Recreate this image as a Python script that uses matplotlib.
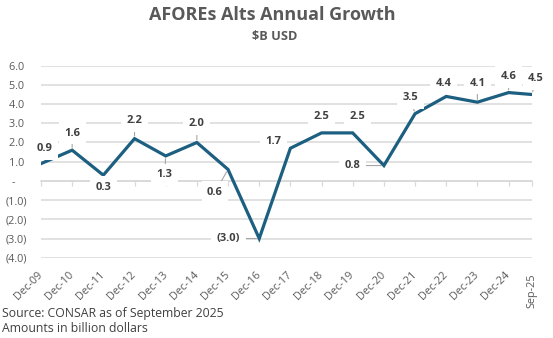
import matplotlib
matplotlib.use("Agg")
import matplotlib.pyplot as plt
import matplotlib.dates as mdates
import pandas as pd
from matplotlib.ticker import FuncFormatter, FixedLocator

# data
dates = ["2009-12-01", "2010-12-01", "2011-12-01", "2012-12-01", "2013-12-01",
         "2014-12-01", "2015-12-01", "2016-12-01", "2017-12-01", "2018-12-01",
         "2019-12-01", "2020-12-01", "2021-12-01", "2022-12-01", "2023-12-01",
         "2024-12-01", "2025-09-01"]
tick_labels = ["Dec-09", "Dec-10", "Dec-11", "Dec-12", "Dec-13", "Dec-14", "Dec-15",
               "Dec-16", "Dec-17", "Dec-18", "Dec-19", "Dec-20", "Dec-21", "Dec-22",
               "Dec-23", "Dec-24", "Sep-25"]
growth = [0.9, 1.6, 0.3, 2.2, 1.3, 2.0, 0.6, -3.0, 1.7, 2.5, 2.5, 0.8, 3.5, 4.4, 4.1, 4.6, 4.5]

# label offsets in pixels (dx, dy) and whether excel drew a leader line
label_offsets = [(4, 15), (0, 17), (0, -12), (0, 18), (-1, -19), (0, 19), (-13, -23),
                 (-31, 0), (-17, 7), (0, 16), (5, 16), (-31, 0), (-5, 16), (-3, 13),
                 (0, 19), (0, 16), (4, 16)]
leaders = [False, True, False, True, True, True, True, True, False, False, False,
           True, True, False, True, True, True]

x = pd.to_datetime(dates)

LINE = "#1c5f80"
GRID = "#d9d9d9"
DARK = "#404040"
GRAY = "#595959"
FONT = "Open Sans"

plt.rcParams["font.family"] = [FONT, "DejaVu Sans"]

fig = plt.figure(figsize=(5.53, 3.38), dpi=100)
ax = fig.add_axes([41 / 553, 1 - 257.7 / 338, (532 - 41) / 553, (257.7 - 65.7) / 338])

ax.plot(x, growth, color=LINE, lw=2.3, solid_joinstyle="miter", zorder=3)

ax.set_ylim(-4, 6)
ax.set_xlim(x[0], x[-1])
ax.set_yticks(range(-4, 7))
ax.yaxis.grid(True, color=GRID, lw=1.1, zorder=0)
ax.set_axisbelow(True)


def fmt(v, pos):
    if v > 0:
        return f"{v:.1f} "
    if v == 0:
        return "-    "
    return f"({-v:.1f})"


ax.yaxis.set_major_formatter(FuncFormatter(fmt))
ax.tick_params(axis="y", length=0, pad=10, labelsize=7.8, labelcolor=GRAY)

for s in ["top", "right", "left"]:
    ax.spines[s].set_visible(False)
ax.spines["bottom"].set_position(("data", 0))
ax.spines["bottom"].set_color(GRID)
ax.spines["bottom"].set_linewidth(1.1)

ax.xaxis.set_major_locator(FixedLocator(mdates.date2num(x)))
ax.set_xticklabels(tick_labels)
ax.tick_params(axis="x", length=3.5, width=0.9, color=GRID, direction="out",
               pad=63, labelsize=7.8, labelcolor=GRAY)
for lab in ax.get_xticklabels():
    lab.set_rotation_mode("anchor")
    lab.set_ha("right")
    lab.set_va("center")
    lab.set_rotation(45)
ax.get_xticklabels()[-1].set_rotation(90)

# data labels
for xi, yi, (dx, dy), lead in zip(x, growth, label_offsets, leaders):
    txt = f"{yi:.1f}" if yi >= 0 else f"({-yi:.1f})"
    arrow = dict(arrowstyle="-", color="#a6a6a6", lw=0.8, shrinkA=0, shrinkB=2) if lead else None
    ax.annotate(txt, (xi, yi), xytext=(dx, dy), textcoords="offset pixels",
                ha="center", va="center", fontsize=8, fontweight="bold", color=DARK,
                bbox=dict(boxstyle="square,pad=0.5", fc="white", ec="none"),
                arrowprops=arrow, zorder=4)

fig.text(272 / 553, 1 - 15 / 338, "AFOREs Alts Annual Growth", ha="center", va="center",
         fontsize=13, fontweight="bold", color=GRAY)
fig.text(275 / 553, 1 - 37 / 338, "$B USD", ha="center", va="center",
         fontsize=9.2, fontweight="bold", color=GRAY)
fig.text(2 / 553, 1 - 313 / 338, "Source: CONSAR as of September 2025", ha="left", va="center",
         fontsize=8.8, color=DARK)
fig.text(2 / 553, 1 - 328 / 338, "Amounts in billion dollars", ha="left", va="center",
         fontsize=8.8, color=DARK)

fig.savefig("out.png", dpi=100, facecolor="white")
